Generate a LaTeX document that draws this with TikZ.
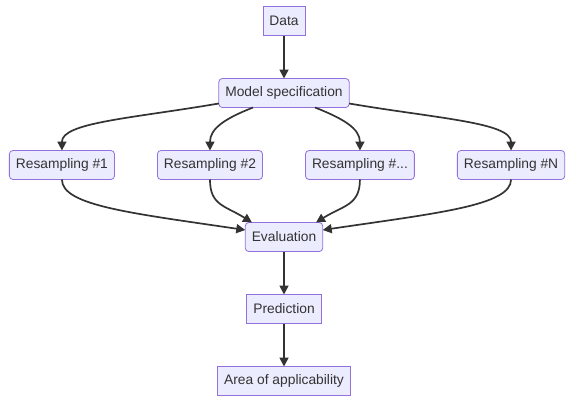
\documentclass[tikz,border=0pt]{standalone}
\usepackage{fontspec}
\setmainfont{Liberation Sans}
\usetikzlibrary{positioning,arrows.meta}
\definecolor{boxfill}{HTML}{ECECFF}
\definecolor{boxline}{HTML}{9370DB}
\definecolor{ink}{HTML}{333333}

\begin{document}
\begin{tikzpicture}[
    every node/.style = {font=\fontsize{13.8pt}{16pt}\selectfont, text=ink},
    sqbox/.style = {draw=boxline, fill=boxfill, line width=0.8pt, outer sep=0pt,
                    minimum height=29pt, inner xsep=6.5pt},
    rdbox/.style = {sqbox, rounded corners=3.5pt},
    flow/.style = {draw=ink, line width=1.7pt, -{Triangle[length=9pt,width=9pt]}},
    node distance = 43pt
  ]
    \useasboundingbox (0,0) rectangle (572pt,-402pt);

    \node[sqbox] (data) at (284pt,-21pt) {Data};
    \node[rdbox, below=of data] (ms) {Model specification};

    \node[rdbox, below left=43pt and 21.5pt of ms.south] (r2) {Resampling \#2};
    \node[rdbox, below right=43pt and 21.5pt of ms.south] (r3) {Resampling \#...};
    \node[rdbox, left=of r2] (r1) {Resampling \#1};
    \node[rdbox, right=of r3] (rN) {Resampling \#N};

    \node[rdbox, below=43pt of ms.south |- r2.south] (ev) {Evaluation};
    \node[sqbox, below=of ev] (pred) {Prediction};
    \node[sqbox, below=of pred] (area) {Area of applicability};

    \draw[flow] (data) -- (ms);

    % fan out
    \draw[flow] ([yshift=4pt]ms.south west) .. controls +(-88pt,-15pt) and +(0pt,28pt) .. (r1.north);
    \draw[flow] ([xshift=-31pt]ms.south) .. controls +(-28pt,-11pt) and +(0pt,22pt) .. (r2.north);
    \draw[flow] ([xshift=31pt]ms.south) .. controls +(28pt,-11pt) and +(0pt,22pt) .. (r3.north);
    \draw[flow] ([yshift=4pt]ms.south east) .. controls +(88pt,-15pt) and +(0pt,28pt) .. (rN.north);

    % fan in
    \draw[flow] (r1.south) .. controls +(0pt,-26pt) and +(-115pt,17pt) .. ([yshift=7pt]ev.west);
    \draw[flow] (r2.south) .. controls +(0pt,-26pt) and +(-27pt,17pt) .. ([xshift=-32pt]ev.north);
    \draw[flow] (r3.south) .. controls +(0pt,-26pt) and +(27pt,17pt) .. ([xshift=32pt]ev.north);
    \draw[flow] (rN.south) .. controls +(0pt,-26pt) and +(115pt,17pt) .. ([yshift=7pt]ev.east);

    \draw[flow] (ev) -- (pred);
    \draw[flow] (pred) -- (area);
\end{tikzpicture}
\end{document}
